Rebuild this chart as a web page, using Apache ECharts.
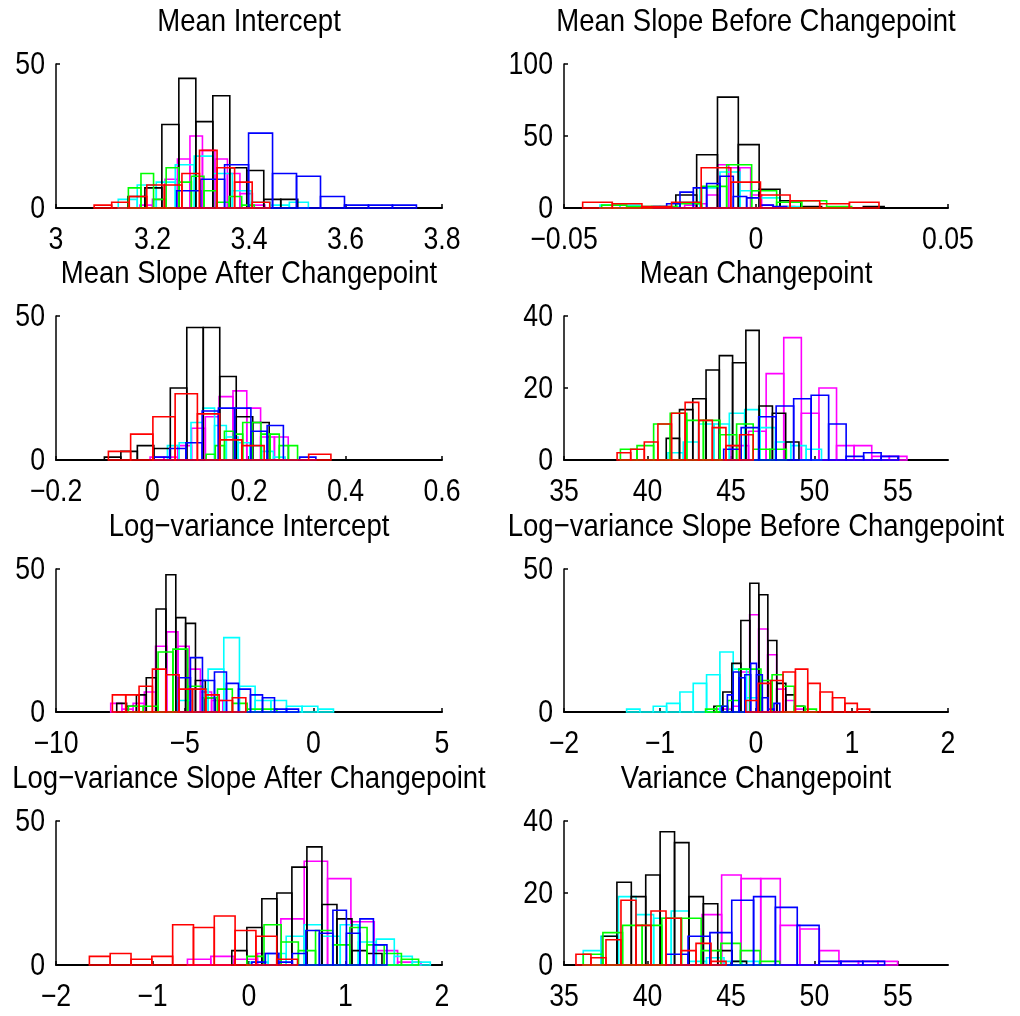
<!DOCTYPE html>
<html>
<head>
<meta charset="utf-8">
<script src="https://cdn.jsdelivr.net/npm/echarts@6/dist/echarts.min.js"></script>
<style>
  html, body { margin: 0; padding: 0; background: #ffffff; }
  #chart { width: 1020px; height: 1016px; }
</style>
</head>
<body>
<div id="chart"></div>
<script>
// Posterior histograms of six MCMC chains (10 bins each).
// Every panel: bin start, bin width and bin counts per chain,
// listed in chain order black, blue, magenta, cyan, green, red.

const CHAINS = ['black', 'blue', 'magenta', 'cyan', 'green', 'red'];
const CHAIN_COLORS = ['#000000', '#0000ff', '#ff00ff', '#00ffff', '#00ff00', '#ff0000'];
// drawing order (later chains sit on top)
const DRAW_ORDER = [2, 3, 0, 4, 1, 5];

// ---- Mean Intercept ----
const meanInterceptStart = [3.149, 3.250, 3.174, 3.129, 3.150, 3.079];
const meanInterceptWidth = [0.0352, 0.0497, 0.0259, 0.0394, 0.0261, 0.0364];
const meanInterceptCounts = [
  [4, 7, 29, 45, 30, 39, 14, 13, 3, 3],
  [6, 10, 15, 26, 12, 11, 4, 1, 1, 1],
  [1, 3, 10, 17, 25, 20, 17, 12, 5, 1],
  [3, 8, 9, 15, 18, 12, 6, 2, 1, 2],
  [7, 12, 3, 14, 9, 11, 6, 2, 4, 1],
  [1, 2, 4, 8, 8, 12, 20, 14, 9, 2]
];
const meanInterceptXTicks = [3, 3.2, 3.4, 3.6, 3.8];
const meanInterceptYTicks = [0, 50];

// ---- Mean Slope Before Changepoint ----
const slopeBeforeStart = [-0.02088, -0.02674, -0.01858, -0.04063, -0.04019, -0.04514];
const slopeBeforeWidth = [0.005425, 0.003472, 0.002865, 0.005208, 0.00651, 0.007717];
const slopeBeforeCounts = [
  [9, 37, 77, 44, 13, 5, 1, 0, 0, 1],
  [1, 3, 11, 14, 17, 22, 8, 7, 2, 1],
  [2, 3, 9, 30, 28, 28, 9, 2, 0, 1],
  [2, 2, 1, 1, 4, 14, 25, 12, 7, 1],
  [2, 1, 1, 3, 15, 30, 12, 4, 5, 1],
  [4, 3, 1, 4, 28, 18, 9, 5, 3, 4]
];
const slopeBeforeXTicks = [-0.05, 0, 0.05];
const slopeBeforeYTicks = [0, 50, 100];

// ---- Mean Slope After Changepoint ----
const slopeAfterStart = [-0.09974, 0.0019, -0.00501, 0.03094, 0.11115, -0.09144];
const slopeAfterWidth = [0.03416, 0.03367, 0.02863, 0.02441, 0.01895, 0.04612];
const slopeAfterCounts = [
  [1, 3, 5, 4, 25, 46, 46, 29, 15, 13],
  [1, 4, 6, 17, 18, 18, 10, 12, 0, 1],
  [1, 1, 5, 11, 15, 22, 24, 18, 8, 8],
  [5, 6, 13, 18, 12, 8, 6, 5, 3, 1],
  [2, 5, 10, 9, 13, 13, 9, 9, 5, 5],
  [3, 9, 15, 23, 16, 7, 5, 0, 0, 2]
];
const slopeAfterXTicks = [-0.2, 0, 0.2, 0.4, 0.6];
const slopeAfterYTicks = [0, 50];

// ---- Mean Changepoint ----
const meanCpStart = [41.123, 44.563, 45.0, 41.223, 38.38, 38.18];
const meanCpWidth = [0.795, 1.048, 1.054, 0.92, 0.994, 0.815];
const meanCpCounts = [
  [6, 14, 17, 25, 29, 27, 36, 15, 13, 5],
  [3, 9, 12, 15, 17, 18, 10, 1, 2, 1],
  [4, 8, 24, 34, 13, 20, 4, 4, 1, 1],
  [2, 5, 10, 10, 13, 14, 9, 5, 4, 3],
  [3, 4, 10, 13, 11, 11, 7, 10, 3, 3],
  [2, 3, 5, 10, 13, 16, 11, 9, 4, 7]
];
const meanCpXTicks = [35, 40, 45, 50, 55];
const meanCpYTicks = [0, 20, 40];

// ---- Log-variance Intercept ----
const logVarInterceptStart = [-7.640, -5.242, -7.874, -5.307, -7.187, -7.809];
const logVarInterceptWidth = [0.3825, 0.4667, 0.4356, 0.609, 0.577, 0.5186];
const logVarInterceptCounts = [
  [3, 2, 6, 12, 36, 48, 33, 31, 11, 5],
  [12, 19, 11, 14, 10, 8, 6, 5, 1, 1],
  [3, 1, 3, 7, 23, 28, 23, 15, 7, 4],
  [4, 8, 15, 26, 9, 4, 4, 2, 2, 1],
  [2, 2, 21, 22, 9, 5, 8, 3, 1, 1],
  [6, 6, 9, 15, 13, 8, 8, 6, 4, 5]
];
const logVarInterceptXTicks = [-10, -5, 0, 5];
const logVarInterceptYTicks = [0, 50];

// ---- Log-variance Slope Before Changepoint ----
const logVarBeforeStart = [-0.4389, -0.359, -0.44, -1.3478, -0.5256, -0.1058];
const logVarBeforeWidth = [0.0937, 0.0607, 0.0935, 0.1388, 0.1155, 0.129];
const logVarBeforeCounts = [
  [2, 7, 17, 32, 45, 41, 25, 10, 6, 2],
  [2, 6, 14, 12, 13, 17, 13, 5, 1, 3],
  [1, 1, 2, 14, 34, 29, 20, 8, 4, 1],
  [1, 0, 2, 3, 7, 10, 13, 21, 15, 5],
  [1, 2, 4, 15, 15, 11, 13, 9, 2, 1],
  [4, 10, 11, 14, 15, 10, 7, 5, 3, 1]
];
const logVarBeforeXTicks = [-2, -1, 0, 1, 2];
const logVarBeforeYTicks = [0, 50];

// ---- Log-variance Slope After Changepoint ----
const logVarAfterStart = [-0.178, 0.0294, -0.638, 0.012, -0.0225, -1.654];
const logVarAfterWidth = [0.1556, 0.14, 0.242, 0.1867, 0.178, 0.2157];
const logVarAfterCounts = [
  [5, 13, 23, 25, 34, 41, 21, 16, 5, 4],
  [1, 4, 1, 4, 12, 11, 19, 11, 16, 7],
  [2, 3, 2, 4, 16, 36, 30, 15, 5, 1],
  [1, 4, 10, 14, 10, 14, 8, 9, 3, 1],
  [3, 14, 8, 5, 12, 7, 13, 7, 4, 2],
  [3, 4, 2, 3, 14, 13, 17, 12, 10, 2]
];
const logVarAfterXTicks = [-2, -1, 0, 1, 2];
const logVarAfterYTicks = [0, 50];

// ---- Variance Changepoint ----
const varCpStart = [37.306, 41.123, 43.27, 36.153, 36.153, 35.716];
const varCpWidth = [0.863, 1.308, 1.171, 1.054, 1.177, 0.899];
const varCpCounts = [
  [8, 23, 19, 25, 37, 34, 19, 17, 4, 1],
  [3, 8, 9, 18, 19, 16, 11, 1, 1, 1],
  [14, 25, 24, 24, 11, 10, 4, 1, 1, 1],
  [4, 8, 19, 14, 13, 15, 1, 2, 1, 1],
  [3, 9, 11, 11, 13, 13, 4, 6, 4, 1],
  [3, 2, 7, 18, 11, 15, 13, 4, 6, 1]
];
const varCpXTicks = [35, 40, 45, 50, 55];
const varCpYTicks = [0, 20, 40];

const PANELS = [
  { title: 'Mean Intercept', start: meanInterceptStart, width: meanInterceptWidth, counts: meanInterceptCounts,
    xMin: 3, xMax: 3.8, xTicks: meanInterceptXTicks, yMax: 50, yTicks: meanInterceptYTicks },
  { title: 'Mean Slope Before Changepoint', start: slopeBeforeStart, width: slopeBeforeWidth, counts: slopeBeforeCounts,
    xMin: -0.05, xMax: 0.05, xTicks: slopeBeforeXTicks, yMax: 100, yTicks: slopeBeforeYTicks },
  { title: 'Mean Slope After Changepoint', start: slopeAfterStart, width: slopeAfterWidth, counts: slopeAfterCounts,
    xMin: -0.2, xMax: 0.6, xTicks: slopeAfterXTicks, yMax: 50, yTicks: slopeAfterYTicks },
  { title: 'Mean Changepoint', start: meanCpStart, width: meanCpWidth, counts: meanCpCounts,
    xMin: 35, xMax: 58, xTicks: meanCpXTicks, yMax: 40, yTicks: meanCpYTicks },
  { title: 'Log\u2212variance Intercept', start: logVarInterceptStart, width: logVarInterceptWidth, counts: logVarInterceptCounts,
    xMin: -10, xMax: 5, xTicks: logVarInterceptXTicks, yMax: 50, yTicks: logVarInterceptYTicks },
  { title: 'Log\u2212variance Slope Before Changepoint', start: logVarBeforeStart, width: logVarBeforeWidth, counts: logVarBeforeCounts,
    xMin: -2, xMax: 2, xTicks: logVarBeforeXTicks, yMax: 50, yTicks: logVarBeforeYTicks },
  { title: 'Log\u2212variance Slope After Changepoint', start: logVarAfterStart, width: logVarAfterWidth, counts: logVarAfterCounts,
    xMin: -2, xMax: 2, xTicks: logVarAfterXTicks, yMax: 50, yTicks: logVarAfterYTicks },
  { title: 'Variance Changepoint', start: varCpStart, width: varCpWidth, counts: varCpCounts,
    xMin: 35, xMax: 58, xTicks: varCpXTicks, yMax: 40, yTicks: varCpYTicks }
];

// page layout of the 4x2 grid of axes (pixels)
const COL_LEFT = [56, 564];
const COL_WIDTH = [386, 384];
const ROW_TOP = [64, 316, 569, 821];
const ROW_HEIGHT = [144, 144, 143, 144];

// tall, narrow Helvetica-like lettering: Liberation Sans squeezed horizontally
const FONT = "'Liberation Sans', Arial, sans-serif";
const TITLE_SIZE = 32;
const TICK_SIZE = 31;
const SQUEEZE = 0.86;
const fmt = v => String(v).replace('-', '\u2212');

const grids = [], xAxes = [], yAxes = [], series = [];

PANELS.forEach((p, i) => {
  const col = i % 2, row = Math.floor(i / 2);
  grids.push({ left: COL_LEFT[col], top: ROW_TOP[row], width: COL_WIDTH[col], height: ROW_HEIGHT[row] });

  xAxes.push({
    type: 'value', gridIndex: i, min: p.xMin, max: p.xMax,
    axisLine: { show: true, onZero: false, lineStyle: { color: '#000', width: 2 } },
    axisTick: { show: true, inside: true, length: 4, customValues: p.xTicks, lineStyle: { color: '#000', width: 1.5 } },
    axisLabel: { show: false },
    splitLine: { show: false }
  });

  yAxes.push({
    type: 'value', gridIndex: i, min: 0, max: p.yMax,
    axisLine: { show: true, onZero: false, lineStyle: { color: '#000', width: 1.5 } },
    axisTick: { show: true, inside: true, length: 4, customValues: p.yTicks, lineStyle: { color: '#000', width: 1.5 } },
    axisLabel: { show: false },
    splitLine: { show: false }
  });

  DRAW_ORDER.forEach(c => {
    const start = p.start[c], bw = p.width[c];
    const rows = p.counts[c].map((n, k) => [start + k * bw, start + (k + 1) * bw, n]);
    const color = CHAIN_COLORS[c];
    series.push({
      type: 'custom',
      name: p.title + ' / ' + CHAINS[c],
      xAxisIndex: i, yAxisIndex: i,
      data: rows,
      encode: { x: [0, 1], y: 2 },
      clip: false,
      silent: true,
      renderItem: (params, api) => {
        const p0 = api.coord([api.value(0), 0]);
        const p1 = api.coord([api.value(1), api.value(2)]);
        return {
          type: 'rect',
          shape: { x: p0[0], y: p1[1], width: p1[0] - p0[0], height: p0[1] - p1[1] },
          style: { fill: 'none', stroke: color, lineWidth: 1.6 }
        };
      }
    });
  });
});

const chart = echarts.init(document.getElementById('chart'), null, { renderer: 'canvas' });
chart.setOption({
  backgroundColor: '#ffffff',
  animation: false,
  grid: grids,
  xAxis: xAxes,
  yAxis: yAxes,
  series: series
});

// Titles and tick labels, placed through each panel's own axis scales.
function squeezedText(text, x, y, size, align) {
  return {
    type: 'text', x: x, y: y, scaleX: SQUEEZE, silent: true,
    style: { text: text, fontFamily: FONT, fontSize: size, fill: '#000',
             align: align, verticalAlign: 'middle' }
  };
}

const labels = [];
PANELS.forEach((p, i) => {
  const origin = chart.convertToPixel({ gridIndex: i }, [p.xMin, 0]);
  const topLeft = chart.convertToPixel({ gridIndex: i }, [p.xMin, p.yMax]);
  const right = chart.convertToPixel({ gridIndex: i }, [p.xMax, 0]);
  labels.push(squeezedText(p.title, (origin[0] + right[0]) / 2, topLeft[1] - 42, TITLE_SIZE, 'center'));
  p.xTicks.forEach(v => {
    const x = chart.convertToPixel({ xAxisIndex: i }, v);
    labels.push(squeezedText(fmt(v), x, origin[1] + 32, TICK_SIZE, 'center'));
  });
  p.yTicks.forEach(v => {
    const y = chart.convertToPixel({ yAxisIndex: i }, v);
    labels.push(squeezedText(fmt(v), origin[0] - 11, y + 1, TICK_SIZE, 'right'));
  });
});
chart.setOption({ graphic: { elements: labels } });
</script>
</body>
</html>
